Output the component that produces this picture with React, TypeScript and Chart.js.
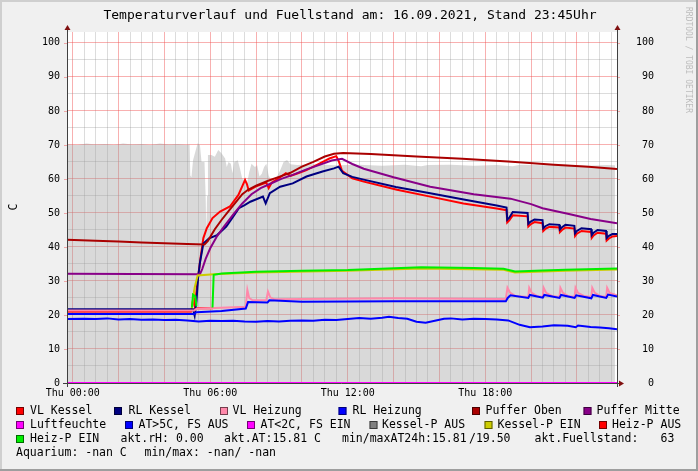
import React, { useEffect, useRef } from "react";
import { Chart, registerables } from "chart.js";

Chart.register(...registerables);

const MONO = '"DejaVu Sans Mono", "Liberation Mono", monospace';

// ---------- axis ranges / ticks (hours since Thu 00:00) ----------
const X_MIN = -0.25;
const X_MAX = 23.75;
const Y_MIN = 0;
const Y_MAX = 103.2;
const xLabels: [number, string][] = [
  [0, "Thu 00:00"],
  [6, "Thu 06:00"],
  [12, "Thu 12:00"],
  [18, "Thu 18:00"],
];
const yLabelValues = [0, 10, 20, 30, 40, 50, 60, 70, 80, 90, 100];

type Pt = [number, number | null];

// ---------- series ----------
const fuellstand: Pt[] = [
  [-0.25, 70.2], [0.2, 70.0], [0.6, 70.4], [1.0, 70.1], [1.4, 70.3], [1.8, 70.0], [2.2, 70.4],
  [2.6, 70.1], [3.0, 70.3], [3.4, 70.0], [3.8, 70.4], [4.2, 70.1], [4.6, 70.3], [5.0, 70.0],
  [5.1, 70.2], [5.13, 61], [5.18, 60.5], [5.25, 65.5], [5.35, 68], [5.45, 70.5], [5.55, 70],
  [5.62, 65], [5.75, 65], [5.8, 55], [5.83, 44], [5.86, 55], [5.9, 67], [6.05, 67], [6.2, 66.5],
  [6.35, 68.5], [6.5, 67.5], [6.65, 66], [6.72, 63.5], [6.8, 65], [6.9, 64.5], [6.97, 61.7],
  [7.05, 65], [7.2, 65.5], [7.3, 63], [7.4, 60], [7.5, 59.7], [7.6, 58.5], [7.7, 62], [7.8, 64.5],
  [7.95, 63.5], [8.05, 64], [8.15, 60.7], [8.25, 61.5], [8.35, 63.5], [8.45, 64.5], [8.55, 61],
  [8.65, 59.7], [8.8, 59.7], [8.9, 60.5], [9.05, 62.5], [9.2, 65], [9.35, 65.6], [9.5, 64.3],
  [9.8, 64.1], [10.5, 64.3], [11.5, 64.0], [12.5, 64.2], [13.5, 63.9], [14.5, 64.2], [15.2, 63.7],
  [15.5, 64.1], [16.5, 64.2], [17.5, 63.9], [18.5, 64.1], [19.2, 63.7], [19.5, 64.2], [20.5, 64.0],
  [21.5, 64.2], [22.5, 63.9], [23.3, 64.1], [23.66, 64.0],
];

const vlKessel: Pt[] = [
  [-0.25, 21.1], [5.15, 21.1], [5.2, 22], [5.27, 25.4], [5.33, 22.5], [5.45, 30], [5.56, 36],
  [5.7, 42.6], [5.85, 45.5], [6.1, 48.5], [6.43, 50.4], [6.86, 51.9], [7.23, 55.3], [7.52, 59.7],
  [7.6, 58.5], [7.68, 56.6], [8.0, 57.8], [8.45, 58.9], [8.55, 57.3], [8.68, 58.9], [9.05, 60.5],
  [9.3, 61.7], [9.5, 60.9], [9.8, 61.6], [10.2, 62.6], [10.7, 64.3], [11.2, 66.0], [11.5, 66.7],
  [11.62, 65], [11.75, 62.4], [12.2, 60.2], [12.7, 59.2], [14.15, 56.8], [15.6, 54.8], [17.05, 52.8],
  [18.5, 51.3], [18.93, 50.8], [18.96, 47.2], [19.05, 47.8], [19.2, 49.3], [19.85, 49.0],
  [19.88, 46.0], [19.97, 46.6], [20.15, 47.3], [20.5, 47.0], [20.53, 44.7], [20.62, 45.3],
  [20.8, 45.9], [21.23, 45.7], [21.26, 44.4], [21.35, 45.0], [21.5, 45.7], [21.89, 45.4],
  [21.92, 43.2], [22.0, 43.9], [22.2, 44.7], [22.62, 44.4], [22.65, 42.7], [22.73, 43.4],
  [22.9, 44.2], [23.27, 43.9], [23.3, 41.9], [23.4, 42.5], [23.55, 43.1], [23.75, 43.2],
];

const rlKessel: Pt[] = [
  [-0.25, 21.7], [5.25, 21.7], [5.32, 19.8], [5.4, 24], [5.47, 31], [5.55, 35.3], [5.7, 41],
  [5.95, 42.5], [6.3, 43.5], [6.7, 46], [7.0, 48.9], [7.25, 51.4], [7.5, 52.3], [7.75, 53.3],
  [8.3, 54.8], [8.42, 52.8], [8.6, 55.8], [9.05, 57.7], [9.6, 58.7], [10.2, 60.7], [10.9, 62.2],
  [11.4, 63.1], [11.6, 63.6], [11.8, 61.7], [12.2, 60.6], [12.7, 59.8], [14.1, 57.6], [15.6, 55.8],
  [17.0, 54.0], [18.5, 52.2], [18.93, 51.6], [18.96, 48.0], [19.05, 48.6], [19.2, 50.3],
  [19.85, 50.0], [19.88, 46.8], [19.97, 47.4], [20.15, 48.1], [20.5, 47.9], [20.53, 45.5],
  [20.62, 46.1], [20.8, 46.7], [21.23, 46.5], [21.26, 45.2], [21.35, 45.8], [21.5, 46.5],
  [21.89, 46.2], [21.92, 44.0], [22.0, 44.7], [22.2, 45.5], [22.62, 45.2], [22.65, 43.5],
  [22.73, 44.2], [22.9, 45.0], [23.27, 44.7], [23.3, 42.6], [23.4, 43.3], [23.55, 43.8], [23.75, 43.8],
];

const vlHeizung: Pt[] = [
  [-0.25, 21.3], [5.3, 21.3], [5.4, 21.8], [7.55, 22.4], [7.62, 27.4], [7.7, 25], [7.85, 24.3],
  [8.45, 24.4], [8.52, 26.9], [8.62, 25.2], [8.8, 24.6], [10, 24.7], [14, 24.9], [18.9, 24.7],
  [18.97, 28.0], [19.08, 26.6], [19.3, 25.6], [19.88, 25.3], [19.92, 28.0], [20.03, 26.5],
  [20.25, 25.6], [20.51, 25.3], [20.55, 28.0], [20.66, 26.5], [20.9, 25.6], [21.24, 25.3],
  [21.28, 28.0], [21.39, 26.5], [21.6, 25.6], [21.9, 25.3], [21.94, 28.0], [22.05, 26.5],
  [22.3, 25.6], [22.63, 25.3], [22.67, 28.0], [22.78, 26.5], [23.0, 25.6], [23.28, 25.3],
  [23.32, 28.0], [23.43, 26.5], [23.75, 25.8],
];

const rlHeizung: Pt[] = [
  [-0.25, 20.3], [5.3, 20.3], [5.4, 20.8], [6.5, 21.2], [7.55, 21.9], [7.65, 23.8], [8.5, 23.7],
  [8.58, 24.3], [10, 23.9], [14, 24.0], [18.9, 24.0], [18.98, 25.0], [19.1, 25.8], [19.88, 25.0],
  [19.95, 25.9], [20.51, 25.1], [20.58, 25.9], [21.24, 25.0], [21.31, 25.9], [21.9, 25.0],
  [21.97, 25.8], [22.63, 24.9], [22.7, 25.9], [23.28, 25.0], [23.36, 26.0], [23.75, 25.4],
];

const pufferOben: Pt[] = [
  [-0.25, 42.1], [1, 41.8], [2, 41.6], [3, 41.3], [4, 41.1], [5, 40.9], [5.75, 40.7], [5.9, 41.8],
  [6.05, 43.5], [6.2, 45.2], [6.5, 48], [6.8, 50.5], [7.1, 53], [7.4, 55.5], [7.65, 56.8], [8.0, 58],
  [8.5, 59.4], [9.0, 60.6], [9.5, 61.8], [10.0, 63.6], [10.5, 65], [11.0, 66.6], [11.4, 67.4],
  [11.8, 67.6], [13, 67.3], [15, 66.6], [17, 65.9], [19, 65.1], [21, 64.2], [22.5, 63.6], [23.75, 62.9],
];

const pufferMitte: Pt[] = [
  [-0.25, 32.1], [5.55, 32.0], [5.65, 33.5], [5.8, 36.5], [6.0, 39.6], [6.3, 43.2], [6.6, 46],
  [7.0, 49.5], [7.4, 52.8], [7.8, 55.5], [8.2, 57.3], [8.6, 58.5], [9.1, 60], [9.6, 61.2],
  [10.2, 62.8], [10.8, 64.2], [11.3, 65.4], [11.75, 65.9], [12.2, 64.4], [12.7, 63], [14, 60.5],
  [15.6, 57.7], [17.5, 55.5], [19.1, 54.2], [20, 52.6], [20.5, 51.4], [21.7, 49.6], [22.6, 48.2],
  [23.75, 47.0],
];

const luftfeuchte: Pt[] = [[-0.25, 0], [23.75, 0]];

const aussenTemp: Pt[] = [
  [-0.25, 18.8], [0.5, 18.9], [1, 18.8], [1.5, 19.0], [2, 18.7], [2.5, 18.8], [3, 18.6], [3.5, 18.7],
  [4, 18.5], [4.5, 18.6], [5, 18.4], [5.5, 18.1], [6, 18.3], [6.5, 18.2], [7, 18.3], [7.5, 18.1],
  [8, 18.0], [8.5, 18.2], [9, 18.1], [9.5, 18.3], [10, 18.4], [10.5, 18.3], [11, 18.6], [11.5, 18.5],
  [12, 18.8], [12.5, 19.1], [13, 18.9], [13.5, 19.2], [13.8, 19.5], [14.2, 19.1], [14.6, 18.9],
  [15.0, 18.0], [15.4, 17.7], [15.8, 18.3], [16.2, 18.9], [16.5, 19.0], [17, 18.7], [17.5, 18.9],
  [18, 18.8], [18.5, 18.7], [19, 18.4], [19.5, 17.1], [19.95, 16.4], [20.5, 16.6], [21, 17.0],
  [21.3, 16.9], [21.6, 16.8], [21.95, 16.4], [22.05, 16.9], [22.6, 16.5], [23.0, 16.3], [23.4, 16.1],
  [23.75, 15.8],
];

const kesselPEin: Pt[] = [
  [5.2, 22], [5.32, 28], [5.45, 31.6], [6.15, 32.0], [8, 32.5], [12, 33.0], [15.2, 33.7],
  [18.8, 33.3], [19.3, 32.5], [21.5, 33.0], [23.75, 33.4],
];

const heizPAus: Pt[] = [
  [-0.25, 21.0], [5.2, 21.0], [5.21, null], [5.4, 22.0], [6.1, 22.0], [6.13, 22.1],
];

const heizPEin: Pt[] = [
  [5.2, 22.2], [5.25, 26], [5.35, 25.5], [5.4, 22.5], [5.41, null], [6.1, 22.2], [6.15, 31.8],
  [6.5, 32.2], [8, 32.7], [10, 33.0], [12, 33.2], [15.2, 34.0], [17.5, 33.8], [18.8, 33.6],
  [19.3, 32.8], [20.5, 33.1], [21.5, 33.3], [23.75, 33.7],
];

// ---------- legend (text) ----------
const legendSquares: [number, number, string, string, number][] = [
  // row, squareX, color, label, textX
  [0, 16, "#ff0000", "VL Kessel", 30],
  [0, 114, "#000080", "RL Kessel", 128.5],
  [0, 220, "#ff88aa", "VL Heizung", 232.5],
  [0, 338.5, "#0000ff", "RL Heizung", 352.5],
  [0, 472, "#aa0000", "Puffer Oben", 485.5],
  [0, 583.5, "#880088", "Puffer Mitte", 596.5],
  [1, 16, "#ff00ff", "Luftfeuchte", 30],
  [1, 125, "#0000ff", "AT>5C, FS AUS", 138.5],
  [1, 247, "#ff00ff", "AT<2C, FS EIN", 260.5],
  [1, 369.5, "#808080", "Kessel-P AUS", 382],
  [1, 484.5, "#cccc00", "Kessel-P EIN", 497.5],
  [1, 599, "#ff0000", "Heiz-P AUS", 612],
  [2, 16, "#00ee00", "Heiz-P EIN", 30],
];
const legendTexts: [number, number, string][] = [
  [2, 120.5, "akt.rH: 0.00"],
  [2, 224, "akt.AT:15.81 C"],
  [2, 342, "min/maxAT24h:15.81"],
  [2, 469, "/19.50"],
  [2, 534.5, "akt.Fuellstand:"],
  [2, 660.5, "63"],
  [3, 16, "Aquarium: -nan C"],
  [3, 144.5, "min/max: -nan/ -nan"],
];
const TITLE = "Temperaturverlauf und Fuellstand am: 16.09.2021, Stand 23:45Uhr";

const toXY = (pts: Pt[]) => pts.map(([x, y]) => ({ x, y }));

export default function App() {
  const ref = useRef<HTMLCanvasElement | null>(null);

  useEffect(() => {
    document.body.style.margin = "0";
    const canvas = ref.current;
    if (!canvas) return;

    const series: { label: string; data: Pt[]; color: string; width: number; area?: boolean }[] = [
      // bottom -> top
      { label: "Fuellstand", data: fuellstand, color: "rgba(160,160,160,0.4)", width: 0, area: true },
      { label: "Heiz-P AUS", data: heizPAus, color: "#ff0000", width: 2 },
      { label: "VL Kessel", data: vlKessel, color: "#ff0000", width: 2 },
      { label: "RL Kessel", data: rlKessel, color: "#000080", width: 2 },
      { label: "VL Heizung", data: vlHeizung, color: "#ff88aa", width: 2 },
      { label: "RL Heizung", data: rlHeizung, color: "#0000ff", width: 2 },
      { label: "Puffer Oben", data: pufferOben, color: "#aa0000", width: 2 },
      { label: "Puffer Mitte", data: pufferMitte, color: "#880088", width: 2 },
      { label: "Luftfeuchte", data: luftfeuchte, color: "#ff00ff", width: 2 },
      { label: "AT", data: aussenTemp, color: "#0000ff", width: 2 },
      { label: "Kessel-P EIN", data: kesselPEin, color: "#cccc00", width: 2 },
      { label: "Heiz-P EIN", data: heizPEin, color: "#00ee00", width: 2 },
    ];
    const n = series.length;
    const datasets = series.map((s, i) => ({
      label: s.label,
      data: toXY(s.data),
      borderColor: s.area ? "rgba(0,0,0,0)" : s.color,
      backgroundColor: s.color,
      borderWidth: s.width,
      fill: s.area ? "origin" : false,
      pointRadius: 0,
      tension: 0,
      spanGaps: false,
      order: n - i,
      yAxisID: "y",
    }));

    const majorGrid = "rgba(240,80,80,0.45)";
    const minorGrid = "rgba(140,140,140,0.3)";
    const xGridHours: number[] = [];
    for (let h = 0; h <= 23.5; h += 0.5) xGridHours.push(h);
    const yGridValues: number[] = [];
    for (let v = 0; v <= 100; v += 5) yGridValues.push(v);
    const xLabelMap = new Map(xLabels);

    const decor = {
      id: "decor",
      beforeDraw(chart: any) {
        const ctx = chart.ctx as CanvasRenderingContext2D;
        const { width, height } = chart;
        const a = chart.chartArea;
        ctx.save();
        ctx.fillStyle = "#f0f0f0";
        ctx.fillRect(0, 0, width, height);
        ctx.fillStyle = "#cfcfcf";
        ctx.fillRect(0, 0, width, 2);
        ctx.fillRect(0, 0, 2, height);
        ctx.fillStyle = "#9e9e9e";
        ctx.fillRect(0, height - 2, width, 2);
        ctx.fillRect(width - 2, 0, 2, height);
        ctx.fillStyle = "#ffffff";
        ctx.fillRect(a.left, a.top, a.right - a.left, a.bottom - a.top);
        ctx.restore();
      },
      afterDraw(chart: any) {
        const ctx = chart.ctx as CanvasRenderingContext2D;
        const a = chart.chartArea;
        const ys = chart.scales.y;
        ctx.save();
        // major grid stubs outside the plot
        ctx.strokeStyle = majorGrid;
        ctx.lineWidth = 1;
        for (const v of yLabelValues) {
          const py = Math.round(ys.getPixelForValue(v)) + 0.5;
          ctx.beginPath();
          ctx.moveTo(a.left - 3, py);
          ctx.lineTo(a.left, py);
          ctx.moveTo(a.right, py);
          ctx.lineTo(a.right + 3, py);
          ctx.stroke();
        }
        // right-hand value labels (mirror of left axis)
        ctx.fillStyle = "#000";
        ctx.font = `10px ${MONO}`;
        ctx.textAlign = "right";
        ctx.textBaseline = "middle";
        for (const v of yLabelValues) {
          ctx.fillText(String(v), 654, ys.getPixelForValue(v));
        }
        // axes
        ctx.strokeStyle = "#404040";
        ctx.beginPath();
        ctx.moveTo(a.left + 0.5, a.bottom + 4);
        ctx.lineTo(a.left + 0.5, a.top - 3);
        ctx.moveTo(a.right + 0.5, a.bottom + 4);
        ctx.lineTo(a.right + 0.5, a.top - 3);
        ctx.moveTo(a.left - 4, a.bottom + 0.5);
        ctx.lineTo(a.right + 3, a.bottom + 0.5);
        ctx.stroke();
        // arrows
        ctx.fillStyle = "#801010";
        const up = (x: number) => {
          ctx.beginPath();
          ctx.moveTo(x - 2.5, a.top - 2);
          ctx.lineTo(x + 3.5, a.top - 2);
          ctx.lineTo(x + 0.5, a.top - 7);
          ctx.closePath();
          ctx.fill();
        };
        up(a.left);
        up(a.right);
        ctx.beginPath();
        ctx.moveTo(a.right + 2, a.bottom - 2.5);
        ctx.lineTo(a.right + 2, a.bottom + 3.5);
        ctx.lineTo(a.right + 7, a.bottom + 0.5);
        ctx.closePath();
        ctx.fill();

        // title
        ctx.fillStyle = "#000";
        ctx.font = `13px ${MONO}`;
        ctx.textAlign = "center";
        ctx.textBaseline = "middle";
        ctx.fillText(TITLE, 350, 16);

        // y axis unit
        ctx.save();
        ctx.translate(14, 207);
        ctx.rotate(-Math.PI / 2);
        ctx.font = `11.5px ${MONO}`;
        ctx.fillText("C", 0, 0);
        ctx.restore();

        // watermark
        ctx.save();
        ctx.translate(688, 7);
        ctx.rotate(Math.PI / 2);
        ctx.font = `8px ${MONO}`;
        ctx.fillStyle = "#bdbdbd";
        ctx.textAlign = "left";
        ctx.fillText("RRDTOOL / TOBI OETIKER", 0, 0);
        ctx.restore();

        // legend
        const rowY = [411, 425, 439, 453.5];
        ctx.font = `11.5px ${MONO}`;
        ctx.textAlign = "left";
        ctx.textBaseline = "middle";
        for (const [row, sx, color, label, tx] of legendSquares) {
          const y = rowY[row];
          ctx.fillStyle = color;
          ctx.fillRect(sx, y - 4, 8, 8);
          ctx.strokeStyle = "rgba(0,0,0,0.55)";
          ctx.strokeRect(sx + 0.5, y - 3.5, 7, 7);
          ctx.fillStyle = "#000";
          ctx.fillText(label, tx, y);
        }
        for (const [row, tx, text] of legendTexts) {
          ctx.fillStyle = "#000";
          ctx.fillText(text, tx, rowY[row]);
        }
        ctx.restore();
      },
    };

    const chart = new Chart(canvas, {
      type: "line",
      data: { datasets: datasets as any },
      options: {
        responsive: false,
        animation: false,
        events: [],
        layout: { padding: { top: 32, left: 0, right: 81, bottom: 0 } },
        plugins: { legend: { display: false }, title: { display: false }, tooltip: { enabled: false } },
        scales: {
          x: {
            type: "linear",
            min: X_MIN,
            max: X_MAX,
            afterBuildTicks: (s: any) => {
              s.ticks = xGridHours.map((v) => ({ value: v }));
            },
            afterFit: (s: any) => {
              s.height = 88;
            },
            border: { display: false },
            grid: {
              drawTicks: false,
              lineWidth: 1,
              color: (c: any) => (c.tick && c.tick.value % 2 === 0 ? majorGrid : minorGrid),
            },
            ticks: {
              autoSkip: false,
              maxRotation: 0,
              padding: 4,
              color: "#000",
              font: { family: MONO, size: 10 },
              callback: (v: any) => xLabelMap.get(Number(v)) ?? "",
            },
          },
          y: {
            type: "linear",
            position: "left",
            min: Y_MIN,
            max: Y_MAX,
            afterBuildTicks: (s: any) => {
              s.ticks = yGridValues.map((v) => ({ value: v }));
            },
            afterFit: (s: any) => {
              s.width = 67;
            },
            border: { display: false },
            grid: {
              drawTicks: false,
              lineWidth: 1,
              color: (c: any) => (c.tick && c.tick.value % 10 === 0 ? majorGrid : minorGrid),
            },
            ticks: {
              padding: 7,
              crossAlign: "near",
              color: "#000",
              font: { family: MONO, size: 10 },
              callback: (v: any) => (Number(v) % 10 === 0 ? String(v) : ""),
            },
          },
        },
      } as any,
      plugins: [decor],
    });
    return () => chart.destroy();
  }, []);

  return (
    <div style={{ width: 698, height: 471 }}>
      <canvas ref={ref} width={698} height={471} style={{ display: "block" }} />
    </div>
  );
}
